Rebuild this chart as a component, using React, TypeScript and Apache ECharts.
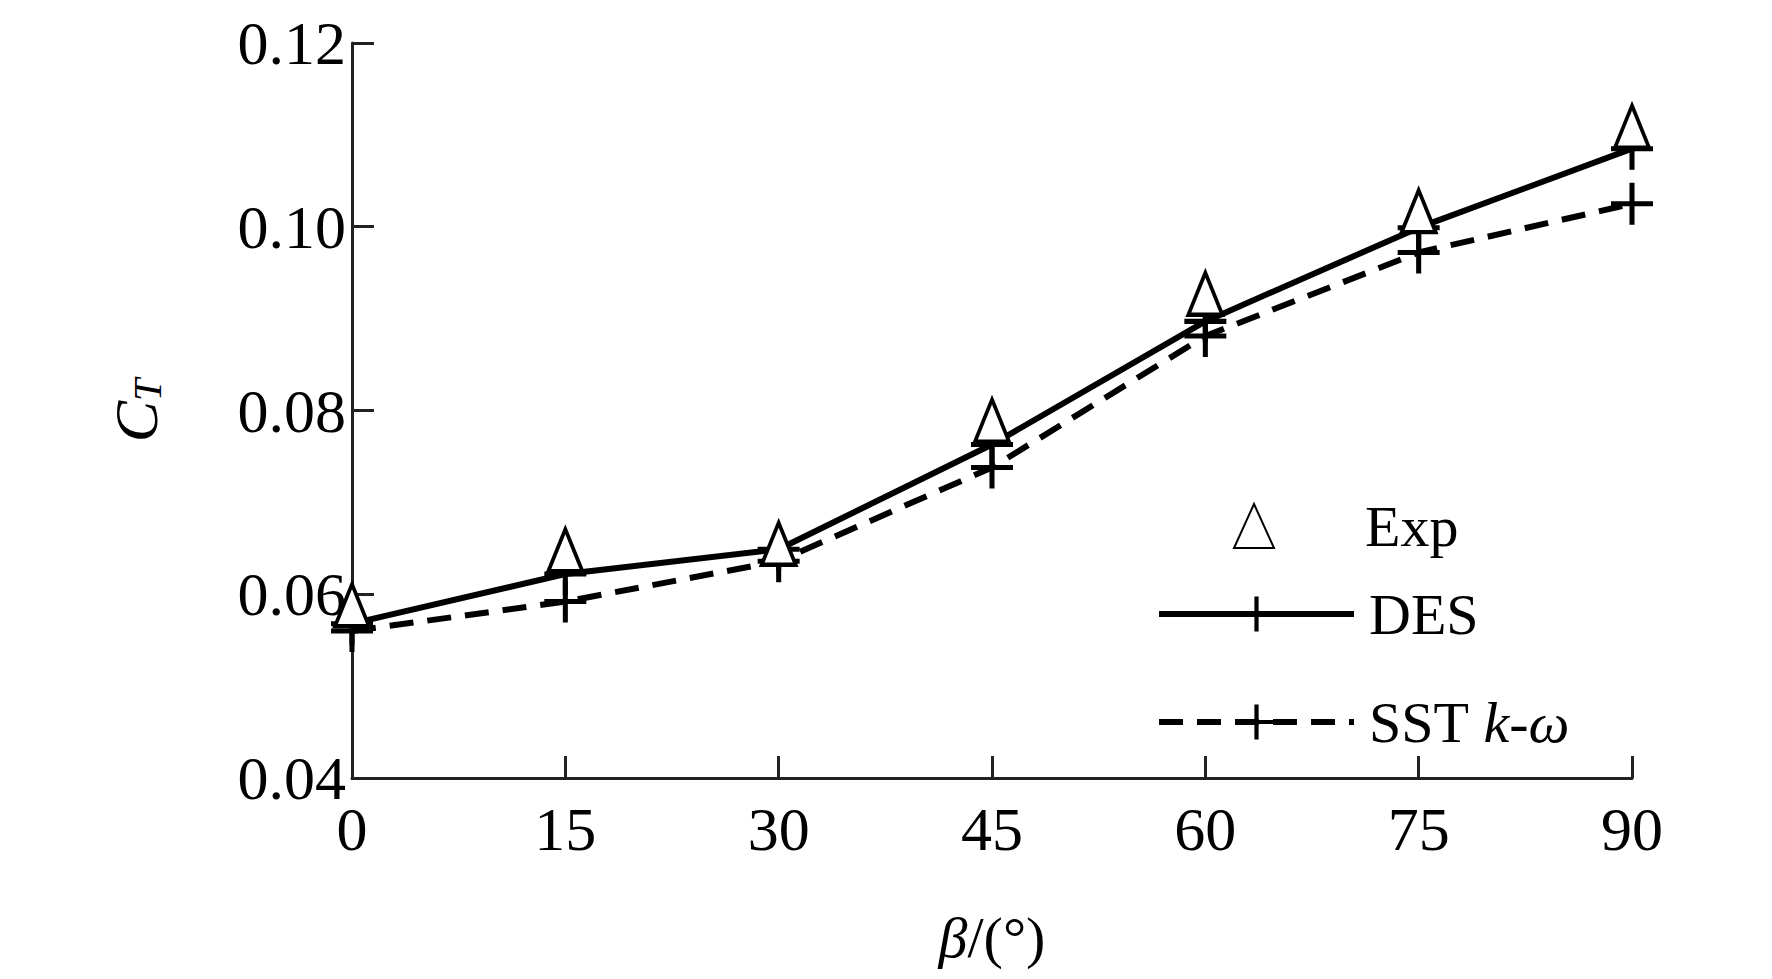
import { useEffect, useRef } from "react";
import * as echarts from "echarts";

const BETA = [0, 15, 30, 45, 60, 75, 90];
const EXP = [0.0588, 0.0648, 0.0655, 0.0789, 0.0927, 0.1017, 0.1109];
const DES = [0.0568, 0.0622, 0.0649, 0.0763, 0.0897, 0.0999, 0.1085];
const SST = [0.056, 0.0592, 0.0636, 0.0738, 0.0881, 0.0972, 0.1025];

const FONT = "'Liberation Serif', 'DejaVu Serif', serif";
const PLUS = "path://M4.4,0H5.6V4.4H10V5.6H5.6V10H4.4V5.6H0V4.4H4.4Z";

const pairs = (ys: number[]) => BETA.map((x, i) => [x, ys[i]]);

export default function App() {
  const ref = useRef<HTMLDivElement>(null);

  useEffect(() => {
    if (!ref.current) return;
    const chart = echarts.init(ref.current, null, { renderer: "svg" });
    const axisLine = { lineStyle: { color: "#222", width: 3 } };
    const legendText = {
      fontFamily: FONT,
      fontSize: 58,
      color: "#000",
      padding: [0, 0, 0, 10],
      rich: { i: { fontFamily: FONT, fontSize: 58, fontStyle: "italic", color: "#000" } },
    };
    chart.setOption({
      animation: false,
      grid: { left: 344, right: 132, top: 35, bottom: 187 },
      textStyle: { fontFamily: FONT },
      legend: [
        {
          orient: "vertical",
          left: 1220,
          top: 484,
          itemWidth: 40,
          itemHeight: 44,
          textStyle: { ...legendText, padding: [0, 0, 0, 86] },
          data: ["Exp"],
          selectedMode: false,
        },
        {
          orient: "vertical",
          left: 1143,
          top: 572,
          itemWidth: 195,
          itemHeight: 44,
          itemGap: 50,
          lineStyle: { width: 6 },
          textStyle: legendText,
          data: ["DES", "SST k-ω"],
          formatter: (n: string) => (n === "SST k-ω" ? "SST {i|k-ω}" : n),
          selectedMode: false,
        },
      ],
      xAxis: {
        type: "value",
        min: 0,
        max: 90,
        interval: 15,
        name: "{i|β}/(°)",
        nameLocation: "middle",
        nameGap: 130,
        nameTextStyle: {
          fontFamily: FONT,
          fontSize: 58,
          color: "#000",
          rich: { i: { fontFamily: FONT, fontSize: 58, fontStyle: "italic" } },
        },
        axisLine,
        axisTick: { inside: true, length: 22, lineStyle: { color: "#222", width: 3 } },
        axisLabel: { fontFamily: FONT, fontSize: 62, color: "#000", margin: 20 },
        splitLine: { show: false },
      },
      yAxis: {
        type: "value",
        min: 0.04,
        max: 0.12,
        interval: 0.02,
        name: "{i|C}{s|T}",
        nameLocation: "middle",
        nameGap: 185,
        nameTextStyle: {
          color: "#000",
          rich: {
            i: { fontFamily: FONT, fontSize: 62, fontStyle: "italic" },
            s: { fontFamily: FONT, fontSize: 40, fontStyle: "italic", verticalAlign: "bottom", padding: [20, 0, 0, 0] },
          },
        },
        axisLine: { show: true, ...axisLine },
        axisTick: { inside: true, length: 22, lineStyle: { color: "#222", width: 3 } },
        axisLabel: {
          fontFamily: FONT,
          fontSize: 62,
          color: "#000",
          margin: 6,
          formatter: (v: number) => v.toFixed(2),
        },
        splitLine: { show: false },
      },
      series: [
        {
          name: "Exp",
          type: "scatter",
          data: pairs(EXP),
          symbol: "triangle",
          symbolSize: [34, 42],
          itemStyle: { color: "#fff", borderColor: "#000", borderWidth: 4, opacity: 1 },
          z: 5,
        },
        {
          name: "DES",
          type: "line",
          data: pairs(DES),
          symbol: PLUS,
          symbolSize: 42,
          showAllSymbol: true,
          lineStyle: { color: "#000", width: 6 },
          itemStyle: { color: "#000" },
        },
        {
          name: "SST k-ω",
          type: "line",
          data: pairs(SST),
          symbol: PLUS,
          symbolSize: 42,
          lineStyle: { color: "#000", width: 6, type: [24, 14] },
          itemStyle: { color: "#000" },
        },
      ],
    });
    return () => chart.dispose();
  }, []);

  return <div ref={ref} style={{ width: 1756, height: 963 }} />;
}
